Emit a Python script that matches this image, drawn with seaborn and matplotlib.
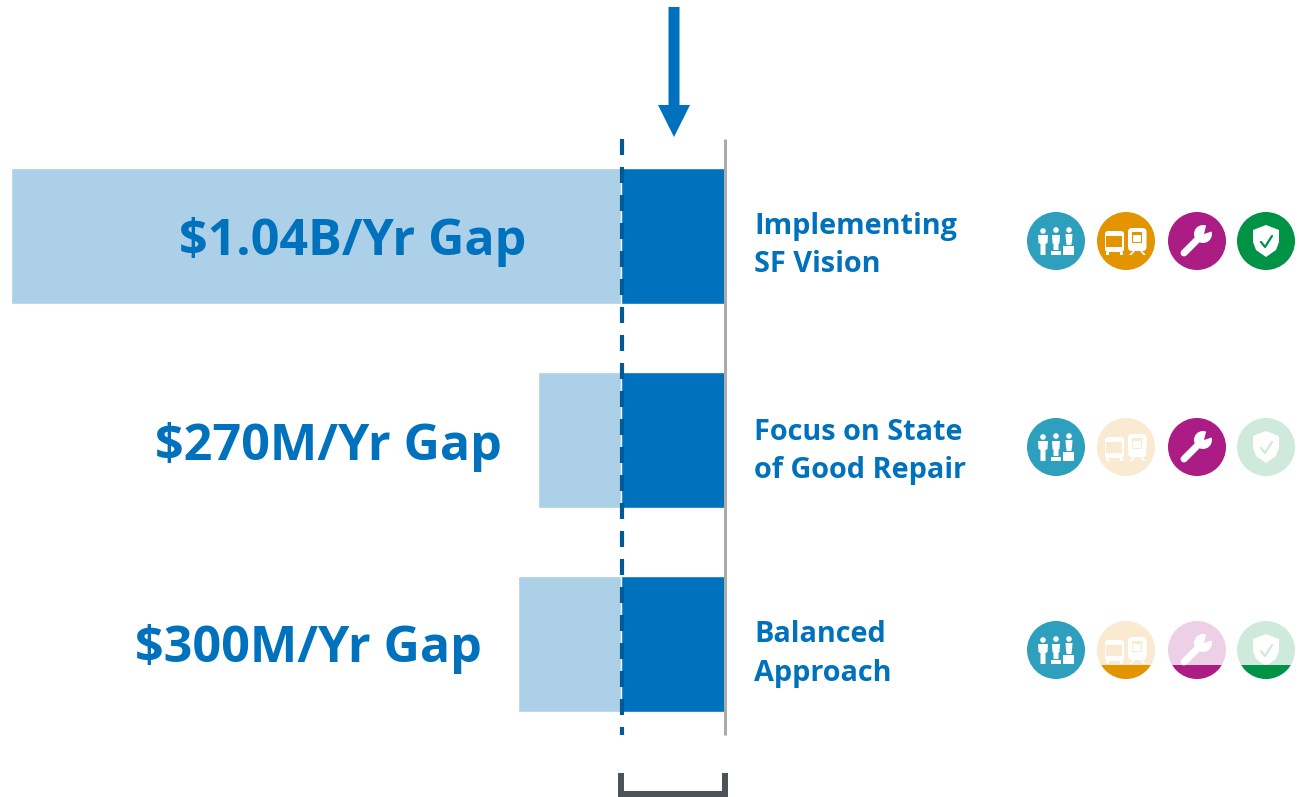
import matplotlib
matplotlib.use("Agg")
import matplotlib.pyplot as plt
from matplotlib.patches import Circle, Polygon, Rectangle, FancyBboxPatch
import pandas as pd
import seaborn as sns

# bar lengths, measured leftwards from the grey line
scenarios = ["Implementing SF Vision", "Focus on State of Good Repair", "Balanced Approach"]
total_need = [714, 187, 207]
funded = [104, 104, 104]
gap_labels = ["$1.04B/Yr Gap", "$270M/Yr Gap", "$300M/Yr Gap"]
name_lines = [["Implementing", "SF Vision"], ["Focus on State", "of Good Repair"], ["Balanced", "Approach"]]
# 0 = faded, 1 = full colour, 2 = faded with a filled strip at the bottom
icon_state = [[1, 1, 1, 1], [1, 0, 1, 0], [1, 2, 2, 2]]

BLUE = "#0071BC"
LIGHT = "#ABD0E8"
DASH = "#005A96"
full_col = ["#2E9FBC", "#E29500", "#AB1C85", "#009245"]
pale_col = ["#2E9FBC", "#F9EAD1", "#EED0E6", "#CFE9DC"]
icon_x = [1056, 1126, 1197, 1266]
icon_y = [241, 447, 650]
R = 29

sns.set_theme(style="white")
plt.rcParams["font.family"] = ["Open Sans", "DejaVu Sans"]

fig = plt.figure(figsize=(12.99, 7.97), dpi=100)
ax = fig.add_axes([0, 0, 1, 1])
df = pd.DataFrame({"scenario": scenarios, "total": total_need, "funded": funded})
sns.barplot(data=df, y="scenario", x="total", color=LIGHT, width=0.668, saturation=1, ax=ax)
sns.barplot(data=df, y="scenario", x="funded", color=BLUE, width=0.668, saturation=1, ax=ax)
ax.set_xlim(725, 725 - 1299)
ax.set_ylim((797 - 236) / 204, -236 / 204)
ax.axis("off")

# second axes in pixels for the annotations
px = fig.add_axes([0, 0, 1, 1])
px.set_xlim(0, 1299)
px.set_ylim(797, 0)
px.axis("off")
px.patch.set_alpha(0)

px.plot([725.5, 725.5], [139, 735], color="#ABABAB", lw=2.2, solid_capstyle="butt")
px.plot([622, 622], [139, 735], color=DASH, lw=3, linestyle=(0, (3.84, 2.88)))

# arrow
px.add_patch(Polygon([(668.5, 7), (679.5, 7), (679.5, 105), (690, 105), (674, 137), (658, 105), (668.5, 105)],
                     closed=True, fc=BLUE, ec="none"))
# bracket
px.add_patch(Polygon([(618, 773), (624, 773), (624, 791), (722, 791), (722, 773), (728.5, 773), (728.5, 797), (618, 797)],
                     closed=True, fc="#4D5356", ec="none"))

gap_x = [179, 155, 135]
gap_y = [242, 447, 649]
for x, y, s in zip(gap_x, gap_y, gap_labels):
    px.text(x, y, s, color=BLUE, fontsize=36.2, fontweight="bold", ha="left", va="center")

name_y = [[226, 264], [432, 470], [634, 673]]
for lines, ys in zip(name_lines, name_y):
    for s, y in zip(lines, ys):
        px.text(754, y, s, color=BLUE, fontsize=20.8, fontweight="bold", ha="left", va="center")


def people(cx, cy, c, fg):
    for dx, head_dy, top, bot, w in [(-13, -10, -6, 14, 5), (0, -11, -6, 9, 4), (13, -11, -7, 4, 3.5)]:
        px.add_patch(Circle((cx + dx, cy + head_dy), 2.8, fc=fg, ec="none"))
        px.add_patch(Polygon([(cx + dx - w, cy + top), (cx + dx + w, cy + top), (cx + dx + w - 0.5, cy + top + 8),
                              (cx + dx + 2.5, cy + top + 9), (cx + dx + 2.5, cy + bot), (cx + dx - 2.5, cy + bot),
                              (cx + dx - 2.5, cy + top + 9), (cx + dx - w + 0.5, cy + top + 8)],
                             closed=True, fc=fg, ec="none"))
    px.add_patch(Rectangle((cx - 5, cy + 10), 10, 4, fc=fg, ec="none"))
    px.add_patch(Rectangle((cx + 7.5, cy + 5), 10.5, 9, fc=fg, ec="none"))


def transit(cx, cy, c, fg):
    # bus
    px.add_patch(FancyBboxPatch((cx - 21, cy - 10), 19, 21, boxstyle="round,pad=0,rounding_size=3", fc=fg, ec="none"))
    px.add_patch(Rectangle((cx - 19.5, cy - 5), 16, 11, fc=c, ec="none"))
    px.add_patch(Rectangle((cx - 20, cy + 11), 3, 3, fc=fg, ec="none"))
    px.add_patch(Rectangle((cx - 6, cy + 11), 3, 3, fc=fg, ec="none"))
    # train
    px.add_patch(FancyBboxPatch((cx + 2, cy - 13), 18.5, 23, boxstyle="round,pad=0,rounding_size=4", fc=fg, ec="none"))
    px.add_patch(Rectangle((cx + 6, cy - 9), 10.5, 11, fc=c, ec="none"))
    px.add_patch(Rectangle((cx + 7.5, cy - 6), 7.5, 6.5, fc=fg, ec="none"))
    px.add_patch(Polygon([(cx + 3, cy + 14), (cx + 7, cy + 10), (cx + 9, cy + 10), (cx + 5.5, cy + 14)], fc=fg, ec="none"))
    px.add_patch(Polygon([(cx + 20, cy + 14), (cx + 16, cy + 10), (cx + 14, cy + 10), (cx + 17.5, cy + 14)], fc=fg, ec="none"))


def wrench(cx, cy, c, fg):
    px.plot([cx - 13, cx + 3], [cy + 12, cy - 4], color=fg, lw=5, solid_capstyle="round")
    px.add_patch(Circle((cx + 6, cy - 7), 9, fc=fg, ec="none"))
    px.add_patch(Polygon([(cx + 7, cy - 7), (cx + 10, cy - 19), (cx + 19, cy - 11)], fc=c, ec="none"))
    px.add_patch(Circle((cx - 13.5, cy + 12.5), 1, fc=c, ec="none"))


def shield(cx, cy, c, fg):
    px.add_patch(Polygon([(cx, cy - 16), (cx + 13, cy - 11), (cx + 13, cy + 1), (cx + 10, cy + 9), (cx, cy + 16),
                          (cx - 10, cy + 9), (cx - 13, cy + 1), (cx - 13, cy - 11)],
                         closed=True, fc=fg, ec="none"))
    px.plot([cx - 5, cx - 1, cx + 6], [cy + 1, cy + 6, cy - 5], color=c, lw=1.6)


draw_icon = [people, transit, wrench, shield]
for cy, states in zip(icon_y, icon_state):
    for i, st in enumerate(states):
        cx = icon_x[i]
        bg = full_col[i] if st == 1 else pale_col[i]
        disc = Circle((cx, cy), R, fc=bg, ec="none")
        px.add_patch(disc)
        # the icons are drawn in white, with the detail in the disc colour
        draw_icon[i](cx, cy, bg, "white")
        if st == 2:
            strip = Rectangle((cx - R, cy + 15), 2 * R, R, fc=full_col[i], ec="none")
            px.add_patch(strip)
            strip.set_clip_path(Circle((cx, cy), R, transform=px.transData))

fig.savefig("out.png", dpi=100)
